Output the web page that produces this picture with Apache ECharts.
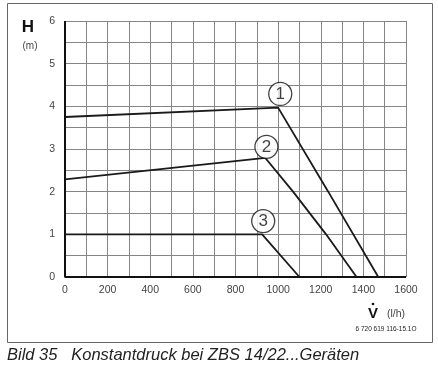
<!DOCTYPE html>
<html><head><meta charset="utf-8">
<script src="https://cdn.jsdelivr.net/npm/echarts@6/dist/echarts.min.js"></script>
<style>html,body{margin:0;padding:0;background:#fff}#c{width:438px;height:368px}</style>
</head><body><div id="c"></div>
<script>
// Curve data: [flow V (l/h), head H (m)]
const curve1 = [[0, 3.75], [1000, 3.97], [1235, 2.0], [1470, 0]];
const curve2 = [[0, 2.29], [940, 2.79], [1070, 2.0], [1225, 1.0], [1368, 0]];
const curve3 = [[0, 1.0], [925, 1.0], [1100, 0]];
const curveLabels = ['1', '2', '3'];
const labelPos = [[1010, 4.29], [945, 3.05], [930, 1.31]];
const xTicks = [0, 200, 400, 600, 800, 1000, 1200, 1400, 1600];
const yTicks = [0, 1, 2, 3, 4, 5, 6];

const chart = echarts.init(document.getElementById('c'), null, {renderer: 'canvas'});
const font = 'Liberation Sans, Arial, sans-serif';
const lineSeries = (d) => ({type: 'line', data: d, symbol: 'none', smooth: false,
  lineStyle: {color: '#1a1a1a', width: 1.8}, z: 3});
chart.setOption({
  animation: false,
  backgroundColor: '#fff',
  grid: {left: 65, top: 21, right: 32, bottom: 91, containLabel: false},
  xAxis: {type: 'value', min: 0, max: 1600, interval: 100,
    axisLine: {show: false}, axisTick: {show: false},
    axisLabel: {margin: 8, color: '#444', fontSize: 10.5, fontFamily: font,
      formatter: v => xTicks.includes(v) ? String(v) : ''},
    splitLine: {show: true, lineStyle: {color: '#858585', width: 1}}},
  yAxis: {type: 'value', min: 0, max: 6, interval: 0.5,
    axisLine: {show: false}, axisTick: {show: false},
    axisLabel: {margin: 10, color: '#444', fontSize: 10.5, fontFamily: font,
      formatter: v => yTicks.includes(v) ? String(v) : ''},
    splitLine: {show: true, lineStyle: {color: '#858585', width: 1}}},
  series: [
    lineSeries(curve1), lineSeries(curve2), lineSeries(curve3),
    {type: 'line', data: [[0, 6], [0, 0], [1600, 0]], symbol: 'none',
      lineStyle: {color: '#111', width: 2}, z: 4},
    {type: 'scatter', data: labelPos.map((p, i) => ({value: p, name: curveLabels[i]})),
      symbol: 'circle', symbolSize: 23,
      itemStyle: {color: '#fff', borderColor: '#111', borderWidth: 1.3}, z: 5,
      label: {show: true, position: 'inside', formatter: p => p.name,
        color: '#111', fontSize: 17, fontFamily: font}}
  ],
  graphic: [
    {type: 'rect', shape: {x: 7.5, y: 3.5, width: 425, height: 339},
      style: {fill: null, stroke: '#666', lineWidth: 1}, z: -1},
    {type: 'text', x: 28, y: 27, style: {text: 'H', font: 'bold 17px ' + font, fill: '#111',
      textAlign: 'center', textVerticalAlign: 'middle'}},
    {type: 'text', x: 30, y: 46, style: {text: '(m)', font: '10px ' + font, fill: '#444',
      textAlign: 'center', textVerticalAlign: 'middle'}},
    {type: 'text', x: 373, y: 314, style: {text: 'V', font: 'bold 15px ' + font, fill: '#111',
      textAlign: 'center', textVerticalAlign: 'middle'}},
    {type: 'circle', shape: {cx: 373, cy: 304, r: 1.3}, style: {fill: '#111'}},
    {type: 'text', x: 396, y: 314, style: {text: '(l/h)', font: '10.5px ' + font, fill: '#444',
      textAlign: 'center', textVerticalAlign: 'middle'}},
    {type: 'text', x: 386, y: 329, style: {text: '6 720 619 116-15.1O', font: '6.5px ' + font, fill: '#222',
      textAlign: 'center', textVerticalAlign: 'middle'}},
    {type: 'text', x: 7, y: 355, style: {text: 'Bild 35   Konstantdruck bei ZBS 14/22...Geräten',
      font: 'italic 16.5px ' + font, fill: '#222', textAlign: 'left', textVerticalAlign: 'middle'}}
  ]
});
</script></body></html>
